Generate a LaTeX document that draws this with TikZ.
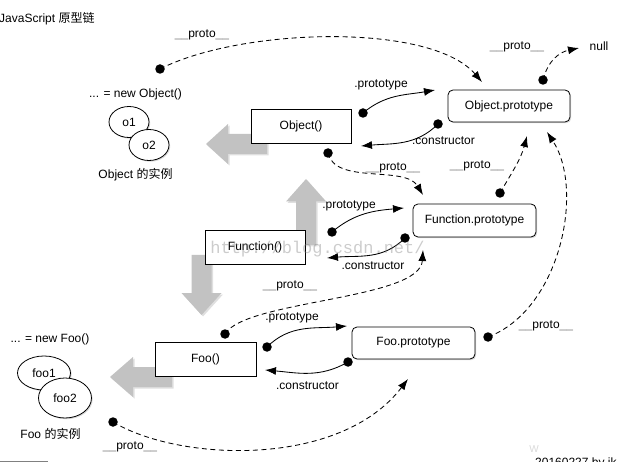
\documentclass[tikz,border=0pt]{standalone}
\usepackage{fontspec}
\setmainfont{Liberation Sans}
\newfontfamily\cjk{Noto Sans CJK SC}
\newfontfamily\wmfont{Liberation Mono}
\usetikzlibrary{arrows.meta,shapes.geometric,shadows}
\newcommand\protolbl{{\color{gray}\_\_}proto{\color{gray}\_\_}}
\definecolor{bigarrowgray}{RGB}{194,194,194}
\tikzset{
  every node/.style={font=\fontsize{12}{14}\selectfont},
  shadowed/.style={drop shadow={shadow xshift=1.2pt,shadow yshift=-1.2pt,opacity=0.3}},
  funcbox/.style={draw,fill=white,line width=0.8pt,minimum width=100pt,minimum height=34pt,inner sep=0pt,shadowed},
  protobox/.style={draw,fill=white,line width=0.8pt,rounded corners=5pt,minimum width=123pt,minimum height=32pt,inner sep=0pt,shadowed},
  inst/.style={draw,fill=white,ellipse,line width=0.8pt,inner sep=0pt,shadowed},
  dot/.style={circle,fill=black,inner sep=0pt,minimum size=9.5pt},
  lbl/.style={inner sep=0pt},
  link/.style={line width=0.85pt,-{Latex[length=11pt,width=8pt]}},
  protolink/.style={link,dash pattern=on 5pt off 3.5pt},
  bigarrow/.style={fill=bigarrowgray,drop shadow={shadow xshift=1.5pt,shadow yshift=-1.5pt,opacity=0.25}}
}
\begin{document}
\begin{tikzpicture}[x=1pt,y=-1pt]
\useasboundingbox (0,0) rectangle (626,462);

% title
\node[lbl,anchor=west] (title) at (-1,19) {JavaScript {\cjk 原型链}};

% big gray arrows (behind boxes)
\fill[bigarrow] (206,144) -- (228,124) -- (228,134) -- (267,134) -- (267,154) -- (228,154) -- (228,164) -- cycle;
\fill[bigarrow] (306,179) -- (326,201.5) -- (316,201.5) -- (316,245) -- (296,245) -- (296,201.5) -- (286,201.5) -- cycle;
\fill[bigarrow] (201.5,315) -- (181.5,293) -- (191.5,293) -- (191.5,255) -- (211.5,255) -- (211.5,293) -- (221.5,293) -- cycle;
\fill[bigarrow] (110,377) -- (133,357) -- (133,367) -- (172,367) -- (172,387) -- (133,387) -- (133,397) -- cycle;

% boxes
\node[funcbox] (obj) at (301,126) {Object()};
\node[protobox,minimum width=122pt] (objp) at (509,106) {Object.prototype};
\node[protobox,minimum height=33pt] (funp) at (474.5,220.5) {Function.prototype};
\node[funcbox] (fun) at (255,247) {Function()};
\node[funcbox,minimum width=101pt] (foo) at (205.5,359) {Foo()};
\node[protobox] (foop) at (413.5,343) {Foo.prototype};

% instances
\node[lbl] (newobj) at (135.5,94) {... = new Object()};
\node[inst,minimum width=40pt,minimum height=31pt] (o1) at (129,122) {o1};
\node[inst,minimum width=40pt,minimum height=31pt] (o2) at (149,145) {o2};
\node[lbl] (objinst) at (135.5,175) {Object {\cjk 的实例}};

\node[lbl] (newfoo) at (50,339.5) {... = new Foo()};
\node[inst,minimum width=53pt,minimum height=34pt] (foo1) at (44,373) {foo1};
\node[inst,minimum width=53pt,minimum height=40pt] (foo2) at (65,398) {foo2};
\node[lbl] (fooinst) at (50.5,433.5) {Foo {\cjk 的实例}};

% dots
\node[dot] (d1) at (363,113) {};
\node[dot] (d2) at (438,124) {};
\node[dot] (d3) at (328,153) {};
\node[dot] (d4) at (500,193) {};
\node[dot] (d5) at (543,80) {};
\node[dot] (d6) at (160,69) {};
\node[dot] (d7) at (332,232) {};
\node[dot] (d8) at (405,238) {};
\node[dot] (d9) at (225,334) {};
\node[dot] (d10) at (267,347) {};
\node[dot] (d11) at (348,362) {};
\node[dot] (d12) at (488,337) {};
\node[dot] (d13) at (113,422) {};

% arrow end points
\coordinate (t1) at (435,90);
\coordinate (t2) at (361,146);
\coordinate (t3) at (423,195);
\coordinate (t4) at (527,136);
\coordinate (t5) at (579,48);
\coordinate (t6) at (482,82);
\coordinate (t7) at (404,208);
\coordinate (t8) at (327,258);
\coordinate (t9) at (423,250);
\coordinate (t10) at (347,326);
\coordinate (t11) at (265,370);
\coordinate (t12) at (547,132);
\coordinate (t13) at (408,379);

% connectors
\draw[link] (d1.center) to[out=40,in=190] (t1);
\draw[link] (d2.center) to[out=225,in=5] (t2);
\draw[protolink] (d3.center) .. controls (335,185) and (405,165) .. (t3);
\draw[protolink] (d4.center) to[out=60,in=-105] (t4);
\draw[protolink] (d5.center) .. controls (548,60) and (560,52) .. (t5);
\draw[protolink] (d6.center) .. controls (240,28) and (430,22) .. (t6);
\draw[link] (d7.center) to[out=40,in=185] (t7);
\draw[link] (d8.center) to[out=225,in=5] (t8);
\draw[protolink] (d9.center) .. controls (245,300) and (420,300) .. (t9);
\draw[link] (d10.center) to[out=45,in=185] (t10);
\draw[link] (d11.center) to[out=210,in=-5] (t11);
\draw[protolink] (d12.center) .. controls (560,310) and (585,190) .. (t12);
\draw[protolink] (d13.center) .. controls (180,462) and (340,468) .. (t13);

% labels
\node[lbl] (l1) at (381,85) {.prototype};
\node[lbl] (l2) at (443.5,141) {.constructor};
\node[lbl] (l3) at (393,168) {\protolbl};
\node[lbl] (l4) at (477,166) {\protolbl};
\node[lbl] (l5) at (517,47) {\protolbl};
\node[lbl] (null) at (599,46) {null};
\node[lbl] (l6) at (202,35) {\protolbl};
\node[lbl] (l7) at (349,206) {.prototype};
\node[lbl] (l8) at (373,266) {.constructor};
\node[lbl] (l9) at (290,286) {\protolbl};
\node[lbl] (l10) at (292,318) {.prototype};
\node[lbl] (l11) at (307.5,386) {.constructor};
\node[lbl] (l12) at (546,326) {\protolbl};
\node[lbl] (l13) at (130,447) {\protolbl};

% footer
\draw[gray,line width=1pt] (0,461) -- (48,461);
\node[lbl,text=gray!30,font=\fontsize{10}{12}\selectfont] (w) at (534,449) {W};
\node[lbl,anchor=base west] (sig) at (535,466) {20160227 by ik};

% watermark
\node[lbl,text=gray,opacity=0.4,font=\wmfont\fontsize{17}{19}\selectfont] (wm) at (317.5,249) {http://blog.csdn.net/};
\end{tikzpicture}
\end{document}
